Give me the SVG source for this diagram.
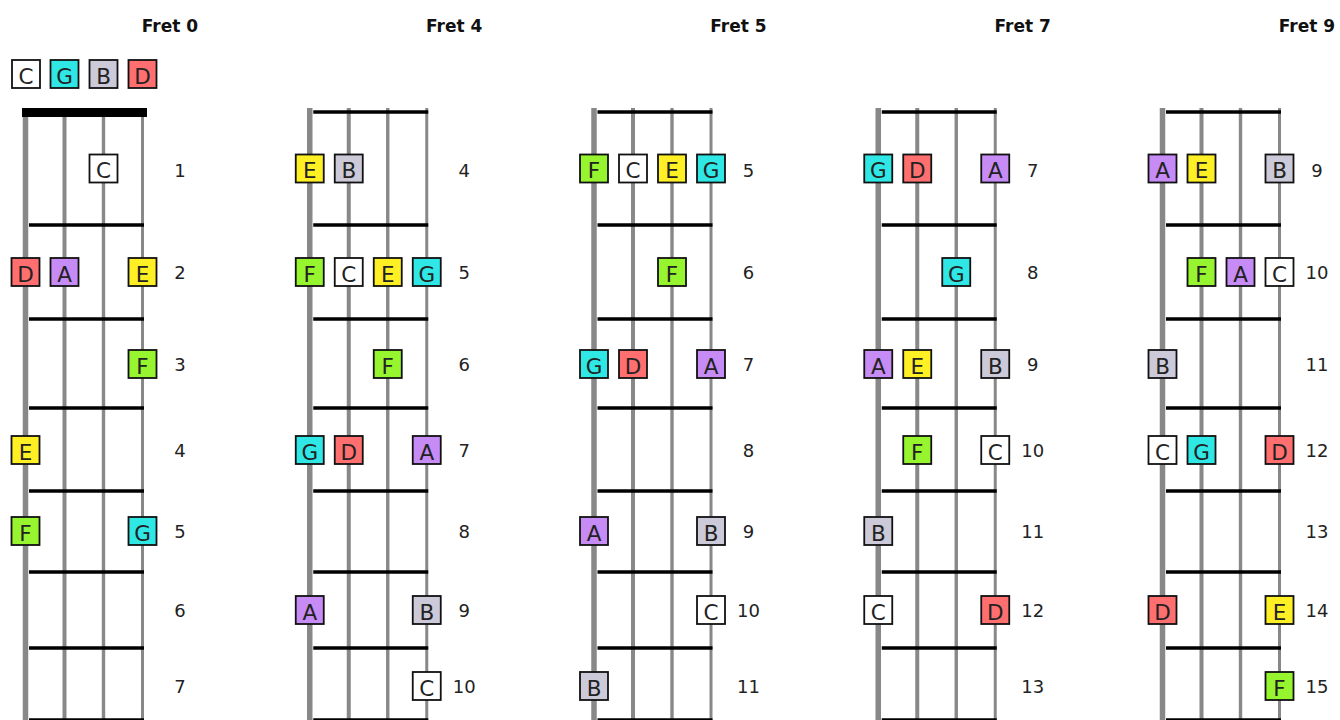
<svg xmlns="http://www.w3.org/2000/svg" width="1340" height="720" viewBox="0 0 1340 720">
<style>
.bg{fill:#ffffff}
.title{font-family:"DejaVu Sans",Verdana,sans-serif;font-weight:bold;font-size:17px;fill:#111;text-anchor:middle}
.num{font-family:"DejaVu Sans",Verdana,sans-serif;font-size:18px;fill:#222;text-anchor:middle}
.s1{stroke:#888;stroke-width:5.5}
.s2{stroke:#888;stroke-width:4}
.s3{stroke:#888;stroke-width:3.4}
.s4{stroke:#888;stroke-width:3}
.fret{stroke:#000;stroke-width:3.5}
.nut{fill:#000}
.note rect{stroke:#111;stroke-width:1.8}
.note text{font-family:"DejaVu Sans",Verdana,sans-serif;font-size:21.5px;fill:#222;text-anchor:middle}
.C rect{fill:#ffffff}
.G rect{fill:#2fe8e6}
.B rect{fill:#cccad9}
.D rect{fill:#ff6f6f}
.A rect{fill:#c78bf6}
.E rect{fill:#fff026}
.F rect{fill:#96f52e}
</style>
<defs>
<g id="strings">
<line class="s1" x1="25.5" y1="108" x2="25.5" y2="720"/>
<line class="s2" x1="64.5" y1="108" x2="64.5" y2="720"/>
<line class="s3" x1="103.5" y1="108" x2="103.5" y2="720"/>
<line class="s4" x1="142.5" y1="108" x2="142.5" y2="720"/>
</g>
<g id="frets">
<line class="fret" x1="29" y1="225" x2="144" y2="225"/>
<line class="fret" x1="29" y1="319" x2="144" y2="319"/>
<line class="fret" x1="29" y1="408" x2="144" y2="408"/>
<line class="fret" x1="29" y1="491" x2="144" y2="491"/>
<line class="fret" x1="29" y1="572" x2="144" y2="572"/>
<line class="fret" x1="29" y1="648" x2="144" y2="648"/>
<line class="fret" x1="29" y1="720" x2="144" y2="720"/>
</g>
</defs>
<rect class="bg" x="0" y="0" width="1340" height="720"/>

<!-- Board: Fret 0 -->
<g id="board-fret0">
<text class="title" x="170" y="32">Fret 0</text>
<g id="legend">
<g class="note C" id="legend-C"><rect x="12" y="60" width="28" height="28"/><text x="26" y="83.5">C</text></g>
<g class="note G" id="legend-G"><rect x="50.5" y="60" width="28" height="28"/><text x="64.5" y="83.5">G</text></g>
<g class="note B" id="legend-B"><rect x="89.5" y="60" width="28" height="28"/><text x="103.5" y="83.5">B</text></g>
<g class="note D" id="legend-D"><rect x="128.5" y="60" width="28" height="28"/><text x="142.5" y="83.5">D</text></g>
</g>
<use href="#strings"/>
<rect class="nut" x="22" y="108" width="125" height="9"/>
<use href="#frets"/>
<g class="num">
<text x="180" y="176.5">1</text><text x="180" y="278.5">2</text><text x="180" y="370.5">3</text><text x="180" y="456.5">4</text><text x="180" y="537.5">5</text><text x="180" y="616.5">6</text><text x="180" y="692.5">7</text>
</g>
<g class="note C" id="b0-f1-C"><rect x="89.5" y="154.5" width="28" height="28"/><text x="103.5" y="178">C</text></g>
<g class="note D" id="b0-f2-D"><rect x="11.5" y="258" width="28" height="28"/><text x="25.5" y="281.5">D</text></g>
<g class="note A" id="b0-f2-A"><rect x="50.5" y="258" width="28" height="28"/><text x="64.5" y="281.5">A</text></g>
<g class="note E" id="b0-f2-E"><rect x="128.5" y="258" width="28" height="28"/><text x="142.5" y="281.5">E</text></g>
<g class="note F" id="b0-f3-F"><rect x="128.5" y="350" width="28" height="28"/><text x="142.5" y="373.5">F</text></g>
<g class="note E" id="b0-f4-E"><rect x="11.5" y="436" width="28" height="28"/><text x="25.5" y="459.5">E</text></g>
<g class="note F" id="b0-f5-F"><rect x="11.5" y="517" width="28" height="28"/><text x="25.5" y="540.5">F</text></g>
<g class="note G" id="b0-f5-G"><rect x="128.5" y="517" width="28" height="28"/><text x="142.5" y="540.5">G</text></g>
</g>

<!-- Board: Fret 4 -->
<g id="board-fret4" transform="translate(284.25,0)">
<text class="title" x="170" y="32">Fret 4</text>
<use href="#strings"/>
<line class="fret" x1="29" y1="112" x2="144" y2="112"/>
<use href="#frets"/>
<g class="num">
<text x="180" y="176.5">4</text><text x="180" y="278.5">5</text><text x="180" y="370.5">6</text><text x="180" y="456.5">7</text><text x="180" y="537.5">8</text><text x="180" y="616.5">9</text><text x="180" y="692.5">10</text>
</g>
<g class="note E" id="b4-f4-E"><rect x="11.5" y="154.5" width="28" height="28"/><text x="25.5" y="178">E</text></g>
<g class="note B" id="b4-f4-B"><rect x="50.5" y="154.5" width="28" height="28"/><text x="64.5" y="178">B</text></g>
<g class="note F" id="b4-f5-F"><rect x="11.5" y="258" width="28" height="28"/><text x="25.5" y="281.5">F</text></g>
<g class="note C" id="b4-f5-C"><rect x="50.5" y="258" width="28" height="28"/><text x="64.5" y="281.5">C</text></g>
<g class="note E" id="b4-f5-E"><rect x="89.5" y="258" width="28" height="28"/><text x="103.5" y="281.5">E</text></g>
<g class="note G" id="b4-f5-G"><rect x="128.5" y="258" width="28" height="28"/><text x="142.5" y="281.5">G</text></g>
<g class="note F" id="b4-f6-F"><rect x="89.5" y="350" width="28" height="28"/><text x="103.5" y="373.5">F</text></g>
<g class="note G" id="b4-f7-G"><rect x="11.5" y="436" width="28" height="28"/><text x="25.5" y="459.5">G</text></g>
<g class="note D" id="b4-f7-D"><rect x="50.5" y="436" width="28" height="28"/><text x="64.5" y="459.5">D</text></g>
<g class="note A" id="b4-f7-A"><rect x="128.5" y="436" width="28" height="28"/><text x="142.5" y="459.5">A</text></g>
<g class="note A" id="b4-f9-A"><rect x="11.5" y="596" width="28" height="28"/><text x="25.5" y="619.5">A</text></g>
<g class="note B" id="b4-f9-B"><rect x="128.5" y="596" width="28" height="28"/><text x="142.5" y="619.5">B</text></g>
<g class="note C" id="b4-f10-C"><rect x="128.5" y="672" width="28" height="28"/><text x="142.5" y="695.5">C</text></g>
</g>

<!-- Board: Fret 5 -->
<g id="board-fret5" transform="translate(568.5,0)">
<text class="title" x="170" y="32">Fret 5</text>
<use href="#strings"/>
<line class="fret" x1="29" y1="112" x2="144" y2="112"/>
<use href="#frets"/>
<g class="num">
<text x="180" y="176.5">5</text><text x="180" y="278.5">6</text><text x="180" y="370.5">7</text><text x="180" y="456.5">8</text><text x="180" y="537.5">9</text><text x="180" y="616.5">10</text><text x="180" y="692.5">11</text>
</g>
<g class="note F" id="b5-f5-F"><rect x="11.5" y="154.5" width="28" height="28"/><text x="25.5" y="178">F</text></g>
<g class="note C" id="b5-f5-C"><rect x="50.5" y="154.5" width="28" height="28"/><text x="64.5" y="178">C</text></g>
<g class="note E" id="b5-f5-E"><rect x="89.5" y="154.5" width="28" height="28"/><text x="103.5" y="178">E</text></g>
<g class="note G" id="b5-f5-G"><rect x="128.5" y="154.5" width="28" height="28"/><text x="142.5" y="178">G</text></g>
<g class="note F" id="b5-f6-F"><rect x="89.5" y="258" width="28" height="28"/><text x="103.5" y="281.5">F</text></g>
<g class="note G" id="b5-f7-G"><rect x="11.5" y="350" width="28" height="28"/><text x="25.5" y="373.5">G</text></g>
<g class="note D" id="b5-f7-D"><rect x="50.5" y="350" width="28" height="28"/><text x="64.5" y="373.5">D</text></g>
<g class="note A" id="b5-f7-A"><rect x="128.5" y="350" width="28" height="28"/><text x="142.5" y="373.5">A</text></g>
<g class="note A" id="b5-f9-A"><rect x="11.5" y="517" width="28" height="28"/><text x="25.5" y="540.5">A</text></g>
<g class="note B" id="b5-f9-B"><rect x="128.5" y="517" width="28" height="28"/><text x="142.5" y="540.5">B</text></g>
<g class="note C" id="b5-f10-C"><rect x="128.5" y="596" width="28" height="28"/><text x="142.5" y="619.5">C</text></g>
<g class="note B" id="b5-f11-B"><rect x="11.5" y="672" width="28" height="28"/><text x="25.5" y="695.5">B</text></g>
</g>

<!-- Board: Fret 7 -->
<g id="board-fret7" transform="translate(852.75,0)">
<text class="title" x="170" y="32">Fret 7</text>
<use href="#strings"/>
<line class="fret" x1="29" y1="112" x2="144" y2="112"/>
<use href="#frets"/>
<g class="num">
<text x="180" y="176.5">7</text><text x="180" y="278.5">8</text><text x="180" y="370.5">9</text><text x="180" y="456.5">10</text><text x="180" y="537.5">11</text><text x="180" y="616.5">12</text><text x="180" y="692.5">13</text>
</g>
<g class="note G" id="b7-f7-G"><rect x="11.5" y="154.5" width="28" height="28"/><text x="25.5" y="178">G</text></g>
<g class="note D" id="b7-f7-D"><rect x="50.5" y="154.5" width="28" height="28"/><text x="64.5" y="178">D</text></g>
<g class="note A" id="b7-f7-A"><rect x="128.5" y="154.5" width="28" height="28"/><text x="142.5" y="178">A</text></g>
<g class="note G" id="b7-f8-G"><rect x="89.5" y="258" width="28" height="28"/><text x="103.5" y="281.5">G</text></g>
<g class="note A" id="b7-f9-A"><rect x="11.5" y="350" width="28" height="28"/><text x="25.5" y="373.5">A</text></g>
<g class="note E" id="b7-f9-E"><rect x="50.5" y="350" width="28" height="28"/><text x="64.5" y="373.5">E</text></g>
<g class="note B" id="b7-f9-B"><rect x="128.5" y="350" width="28" height="28"/><text x="142.5" y="373.5">B</text></g>
<g class="note F" id="b7-f10-F"><rect x="50.5" y="436" width="28" height="28"/><text x="64.5" y="459.5">F</text></g>
<g class="note C" id="b7-f10-C"><rect x="128.5" y="436" width="28" height="28"/><text x="142.5" y="459.5">C</text></g>
<g class="note B" id="b7-f11-B"><rect x="11.5" y="517" width="28" height="28"/><text x="25.5" y="540.5">B</text></g>
<g class="note C" id="b7-f12-C"><rect x="11.5" y="596" width="28" height="28"/><text x="25.5" y="619.5">C</text></g>
<g class="note D" id="b7-f12-D"><rect x="128.5" y="596" width="28" height="28"/><text x="142.5" y="619.5">D</text></g>
</g>

<!-- Board: Fret 9 -->
<g id="board-fret9" transform="translate(1137,0)">
<text class="title" x="170" y="32">Fret 9</text>
<use href="#strings"/>
<line class="fret" x1="29" y1="112" x2="144" y2="112"/>
<use href="#frets"/>
<g class="num">
<text x="180" y="176.5">9</text><text x="180" y="278.5">10</text><text x="180" y="370.5">11</text><text x="180" y="456.5">12</text><text x="180" y="537.5">13</text><text x="180" y="616.5">14</text><text x="180" y="692.5">15</text>
</g>
<g class="note A" id="b9-f9-A"><rect x="11.5" y="154.5" width="28" height="28"/><text x="25.5" y="178">A</text></g>
<g class="note E" id="b9-f9-E"><rect x="50.5" y="154.5" width="28" height="28"/><text x="64.5" y="178">E</text></g>
<g class="note B" id="b9-f9-B"><rect x="128.5" y="154.5" width="28" height="28"/><text x="142.5" y="178">B</text></g>
<g class="note F" id="b9-f10-F"><rect x="50.5" y="258" width="28" height="28"/><text x="64.5" y="281.5">F</text></g>
<g class="note A" id="b9-f10-A"><rect x="89.5" y="258" width="28" height="28"/><text x="103.5" y="281.5">A</text></g>
<g class="note C" id="b9-f10-C"><rect x="128.5" y="258" width="28" height="28"/><text x="142.5" y="281.5">C</text></g>
<g class="note B" id="b9-f11-B"><rect x="11.5" y="350" width="28" height="28"/><text x="25.5" y="373.5">B</text></g>
<g class="note C" id="b9-f12-C"><rect x="11.5" y="436" width="28" height="28"/><text x="25.5" y="459.5">C</text></g>
<g class="note G" id="b9-f12-G"><rect x="50.5" y="436" width="28" height="28"/><text x="64.5" y="459.5">G</text></g>
<g class="note D" id="b9-f12-D"><rect x="128.5" y="436" width="28" height="28"/><text x="142.5" y="459.5">D</text></g>
<g class="note D" id="b9-f14-D"><rect x="11.5" y="596" width="28" height="28"/><text x="25.5" y="619.5">D</text></g>
<g class="note E" id="b9-f14-E"><rect x="128.5" y="596" width="28" height="28"/><text x="142.5" y="619.5">E</text></g>
<g class="note F" id="b9-f15-F"><rect x="128.5" y="672" width="28" height="28"/><text x="142.5" y="695.5">F</text></g>
</g>
</svg>
